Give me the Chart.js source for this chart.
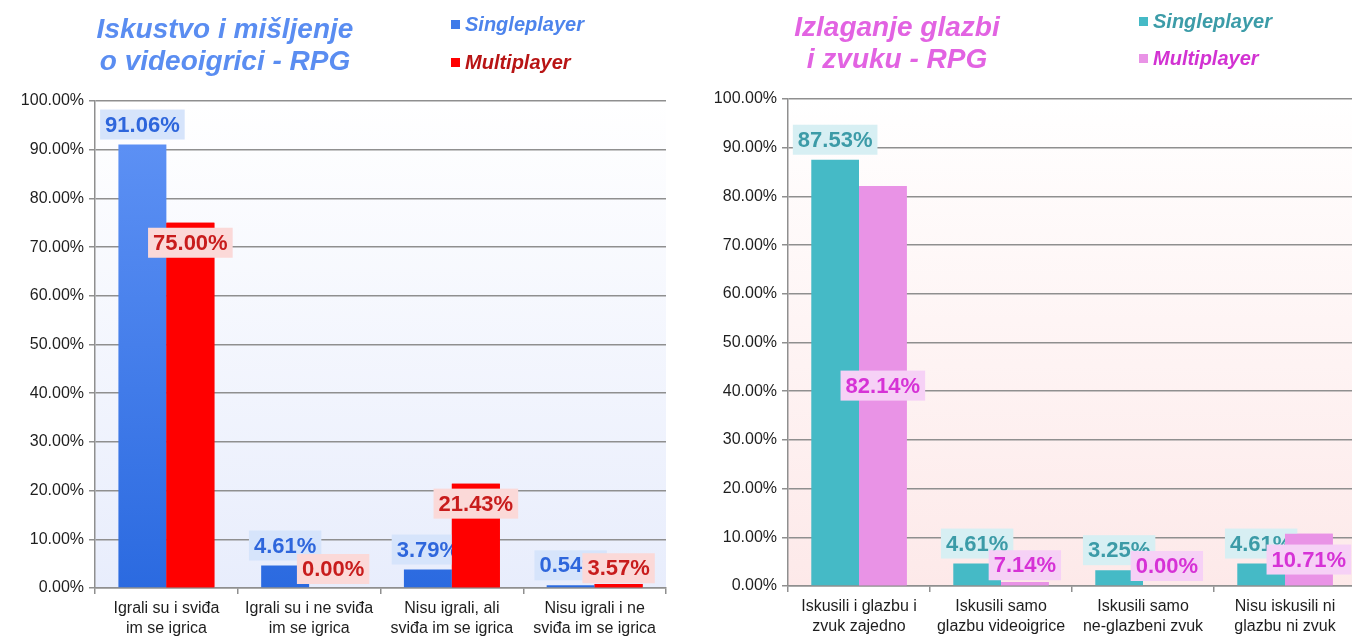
<!DOCTYPE html>
<html>
<head>
<meta charset="utf-8">
<script src="https://cdn.jsdelivr.net/npm/chart.js@4/dist/chart.umd.min.js"></script>
<style>
  body { margin: 0; width: 1352px; height: 637px; overflow: hidden; background: #fff; position: relative; font-family: "Liberation Sans", Arial, sans-serif; }
  .box { position: absolute; top: 0; height: 637px; }
  .title { position: absolute; text-align: center; font-weight: bold; font-style: italic; font-size: 28px; line-height: 32px; }
  .leg { position: absolute; font-weight: bold; font-style: italic; font-size: 20px; line-height: 22px; white-space: nowrap; }
  .leg i { display: inline-block; width: 9px; height: 9px; margin-right: 5px; vertical-align: 2px; }
</style>
</head>
<body>
<div class="box" style="left:0;width:680px"><canvas id="left"></canvas></div>
<div class="box" style="left:680px;width:690px"><canvas id="right"></canvas></div>

<div class="title" style="left:75px;top:13px;width:300px;color:#5a8df1">Iskustvo i mišljenje<br>o videoigrici - RPG</div>
<div class="leg" style="left:451px;top:13px;color:#4d84ec"><i style="background:#3f7be9"></i>Singleplayer</div>
<div class="leg" style="left:451px;top:51px;color:#b81414"><i style="background:#ff0000"></i>Multiplayer</div>

<div class="title" style="left:747px;top:11px;width:300px;color:#e263e2">Izlaganje glazbi<br>i zvuku - RPG</div>
<div class="leg" style="left:1139px;top:10px;color:#3c9ca8"><i style="background:#45bac6"></i>Singleplayer</div>
<div class="leg" style="left:1139px;top:47px;color:#d232d2"><i style="background:#e993e6"></i>Multiplayer</div>

<script>
// left chart: Iskustvo i mišljenje o videoigrici
const catsLeft = [
    ['Igrali su i sviđa', 'im se igrica'],
    ['Igrali su i ne sviđa', 'im se igrica'],
    ['Nisu igrali, ali', 'sviđa im se igrica'],
    ['Nisu igrali i ne', 'sviđa im se igrica']
];
const singleLeft = [91.06, 4.61, 3.79, 0.54];
const multiLeft = [75.00, 0.00, 21.43, 0.80];       // bar heights as drawn
const multiLeftShown = [75.00, 0.00, 21.43, 3.57];  // values printed on the labels

// right chart: Izlaganje glazbi i zvuku
const catsRight = [
    ['Iskusili i glazbu i', 'zvuk zajedno'],
    ['Iskusili samo', 'glazbu videoigrice'],
    ['Iskusili samo', 'ne-glazbeni zvuk'],
    ['Nisu iskusili ni', 'glazbu ni zvuk']
];
const singleRight = [87.53, 4.61, 3.25, 4.61];
const multiRight = [82.14, 0.80, 0.00, 10.71];
const multiRightShown = [82.14, 7.14, 0.00, 10.71];

const yTicks = { min: 0, max: 100, step: 10 };

const gridCol = '#8f8f8f';

// plot area background
const plotBg = {
    id: 'plotBg',
    beforeDraw(chart, args, opts) {
        const a = chart.chartArea, ctx = chart.ctx;
        const g = ctx.createLinearGradient(0, a.top, 0, a.bottom);
        g.addColorStop(0, '#ffffff');
        g.addColorStop(1, opts.bottom);
        ctx.save();
        ctx.fillStyle = g;
        ctx.fillRect(a.left, a.top, a.right - a.left, a.bottom - a.top);
        ctx.restore();
    }
};

// value labels: first series labels, then second series bars redrawn on top, then its labels
const valueLabels = {
    id: 'valueLabels',
    afterDatasetsDraw(chart) {
        const ctx = chart.ctx;
        const a = chart.chartArea;
        chart.data.datasets.forEach((ds, di) => {
            const meta = chart.getDatasetMeta(di);
            if (di > 0) {
                ctx.save();
                ctx.beginPath();
                ctx.rect(a.left, a.top, a.right - a.left, a.bottom - a.top);
                ctx.clip();
                meta.data.forEach(bar => bar.draw(ctx, a));
                ctx.restore();
            }
            ctx.save();
            ctx.font = 'bold 22px "Liberation Sans", Arial, sans-serif';
            ctx.textAlign = 'center';
            ctx.textBaseline = 'middle';
            meta.data.forEach((bar, i) => {
                const txt = ds.shown[i].toFixed(2) + '%';
                const top = bar.y, base = bar.base;
                let cy;
                if (ds.labelPos === 'above') cy = top - 20;
                else if (ds.labelPos === 'insideEnd') cy = Math.min(top + 20, base - 19);
                else cy = Math.min((top + base) / 2, base - 20);
                const w = ctx.measureText(txt).width + 10;
                ctx.fillStyle = ds.labelBg;
                ctx.fillRect(bar.x - w / 2, cy - 15, w, 30);
                ctx.fillStyle = ds.labelColor;
                ctx.fillText(txt, bar.x, cy + 1);
            });
            ctx.restore();
        });
    }
};

function makeChart(id, cats, sets, opts) {
    const ticksFont = { family: '"Liberation Sans", Arial, sans-serif', size: 16 };
    return new Chart(document.getElementById(id), {
        type: 'bar',
        data: {
            labels: cats,
            datasets: sets.map(s => ({
                label: s.label,
                data: s.data,
                shown: s.shown,
                backgroundColor: s.color,
                labelBg: s.labelBg,
                labelColor: s.labelColor,
                labelPos: s.labelPos,
                barPercentage: 1,
                categoryPercentage: 0.672,
                borderWidth: 0
            }))
        },
        options: {
            responsive: true,
            maintainAspectRatio: false,
            animation: false,
            layout: { padding: { top: opts.top, right: opts.right, left: 0, bottom: 0 } },
            plugins: {
                legend: { display: false },
                tooltip: { enabled: false },
                plotBg: { bottom: opts.bg }
            },
            scales: {
                x: {
                    afterFit: s => { s.height = 637 - opts.bottom; },
                    grid: { drawOnChartArea: false, drawTicks: true, tickLength: 6, color: gridCol, lineWidth: 1.5, offset: true },
                    border: { color: gridCol, width: 1.5 },
                    ticks: { color: '#1e1e1e', font: { ...ticksFont, lineHeight: 1.28 }, padding: 4, maxRotation: 0, autoSkip: false }
                },
                y: {
                    min: yTicks.min,
                    max: yTicks.max,
                    afterFit: s => { s.width = opts.axisX; },
                    grid: { color: gridCol, lineWidth: 1.5, tickLength: 6 },
                    border: { color: gridCol, width: 1.5 },
                    ticks: {
                        stepSize: yTicks.step,
                        color: '#1e1e1e',
                        font: ticksFont,
                        padding: 5,
                        callback: v => v.toFixed(2) + '%'
                    }
                }
            }
        },
        plugins: [plotBg, valueLabels]
    });
}

// blue bars get a vertical gradient over the plot area
function blueFill(ctx) {
    const a = ctx.chart.chartArea;
    if (!a) return '#3f7be9';
    const g = ctx.chart.ctx.createLinearGradient(0, a.top, 0, a.bottom);
    g.addColorStop(0, '#6194f6');
    g.addColorStop(1, '#2b6ae0');
    return g;
}

makeChart('left', catsLeft, [
    { label: 'Singleplayer', data: singleLeft, shown: singleLeft, color: blueFill,
      labelBg: '#d6e4fb', labelColor: '#2e66dc', labelPos: 'above' },
    { label: 'Multiplayer', data: multiLeft, shown: multiLeftShown, color: '#ff0000',
      labelBg: '#fbd9d8', labelColor: '#c81c1c', labelPos: 'insideEnd' }
], { top: 101, bottom: 588, right: 14, axisX: 95, bg: '#e8edfc' });

makeChart('right', catsRight, [
    { label: 'Singleplayer', data: singleRight, shown: singleRight, color: '#45bac6',
      labelBg: '#d7eff3', labelColor: '#3c9ba7', labelPos: 'above' },
    { label: 'Multiplayer', data: multiRight, shown: multiRightShown, color: '#e993e6',
      labelBg: '#f6d1f6', labelColor: '#d632d6', labelPos: 'center' }
], { top: 99, bottom: 586, right: 14, axisX: 108, bg: '#fde9e9' });
</script>
</body>
</html>
